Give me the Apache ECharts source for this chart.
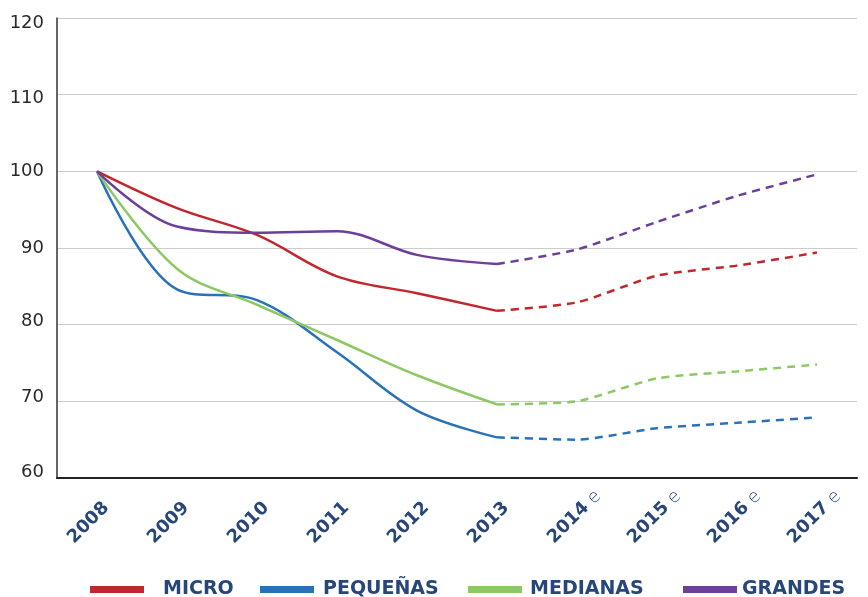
<!DOCTYPE html>
<html>
<head>
<meta charset="utf-8">
<script src="https://cdn.jsdelivr.net/npm/echarts@6/dist/echarts.min.js"></script>
<style>
  html, body { margin: 0; padding: 0; background: #fff; }
  #chart { width: 868px; height: 597px; }
</style>
</head>
<body>
<div id="chart"></div>
<script>
// Years; the last four are estimates (marked "e")
const years = ['2008', '2009', '2010', '2011', '2012', '2013', '2014', '2015', '2016', '2017'];
const estimated = [false, false, false, false, false, false, true, true, true, true];

// Index values (2008 = 100) by company size
const micro     = [100, 95.2, 91.7, 86.3, 84.1, 81.8, 82.9, 86.4, 87.7, 89.4];
const pequenas  = [100, 84.6, 83.2, 76.4, 68.8, 65.3, 65.0, 66.5, 67.2, 67.9];
const medianas  = [100, 87.3, 82.6, 78.0, 73.4, 69.6, 70.0, 73.0, 73.9, 74.8];
const grandes   = [100, 92.8, 92.0, 92.2, 89.1, 87.9, 89.8, 93.4, 96.8, 99.6];

// Y axis ticks
const yTicks = [60, 70, 80, 90, 100, 110, 120];

// vertical nudge (px, + = down) applied to each y tick label
const yLabelNudge = { 60: -6, 70: -4, 80: -3, 90: 0, 100: 0, 110: 4, 120: 5 };

const seriesDefs = [
  { name: 'MICRO',    color: '#c1272d', values: micro,    legendLeft: 90,  textGap: 14 },
  { name: 'PEQUEÑAS', color: '#2a72b8', values: pequenas, legendLeft: 260, textGap: 4 },
  { name: 'MEDIANAS', color: '#8cc864', values: medianas, legendLeft: 468, textGap: 3 },
  { name: 'GRANDES',  color: '#6d3f98', values: grandes,  legendLeft: 683, textGap: 0 }
];

const lastActual = estimated.indexOf(true) - 1;

const series = [];
seriesDefs.forEach(def => {
  // observed part: solid
  series.push({
    name: def.name,
    type: 'line',
    xAxisIndex: 0,
    smooth: 0.35,
    showSymbol: false,
    symbol: 'none',
    lineStyle: { color: def.color, width: 2.5 },
    itemStyle: { color: def.color },
    data: def.values.map((v, i) => (i <= lastActual ? v : null)),
    z: 3
  });
  // estimated part: dashed
  series.push({
    name: def.name + ' (e)',
    type: 'line',
    xAxisIndex: 0,
    smooth: 0.2,
    showSymbol: false,
    symbol: 'none',
    lineStyle: { color: def.color, width: 2.5, type: [8, 6] },
    itemStyle: { color: def.color },
    data: def.values.map((v, i) => (i >= lastActual ? v : null)),
    z: 3
  });
});

const navy = '#27477a';

// one legend entry per size class, each placed on its own
const legends = seriesDefs.map(def => ({
  data: [{ name: def.name, icon: 'rect', itemStyle: { color: def.color } }],
  left: def.legendLeft,
  top: 580,
  padding: 0,
  itemWidth: 54,
  itemHeight: 7,
  selectedMode: false,
  textStyle: {
    color: navy,
    fontFamily: 'DejaVu Sans',
    fontWeight: 'bold',
    fontSize: 19,
    padding: [0, 0, 0, def.textGap]
  }
}));

// rich styles for the y tick labels
const yRich = {};
yTicks.forEach(t => {
  const d = yLabelNudge[t] || 0;
  yRich['v' + t] = {
    color: '#2a2a2a',
    fontFamily: 'DejaVu Sans',
    fontSize: 18,
    padding: d >= 0 ? [2 * d, 0, 0, 0] : [0, 0, -2 * d, 0]
  };
});

const chart = echarts.init(document.getElementById('chart'));
chart.setOption({
  animation: false,
  grid: { left: 57, right: 11, top: 18, bottom: 119, containLabel: false },
  legend: legends,
  xAxis: [
    {
      type: 'category',
      data: years,
      boundaryGap: true,
      axisLine: { lineStyle: { color: '#222', width: 2 } },
      axisTick: { inside: true, length: 5, lineStyle: { color: '#222', width: 1.5 } },
      axisLabel: {
        interval: 0,
        rotate: 45,
        margin: 18,
        verticalAlign: 'top',
        padding: [4, 0, 0, 0],
        color: navy,
        fontFamily: 'DejaVu Sans',
        fontWeight: 'bold',
        fontSize: 18
      }
    },
    {
      // the raised "e" that marks estimated years
      type: 'category',
      data: years,
      boundaryGap: true,
      position: 'bottom',
      axisLine: { show: false },
      axisTick: { show: false },
      splitLine: { show: false },
      axisLabel: {
        interval: 0,
        rotate: 45,
        margin: 37,
        align: 'left',
        verticalAlign: 'middle',
        padding: [0, 0, 0, 19],
        color: navy,
        fontFamily: 'DejaVu Sans',
        fontWeight: 200,
        fontSize: 18,
        formatter: (val, idx) => (estimated[idx] ? 'e' : '')
      }
    }
  ],
  yAxis: {
    type: 'value',
    min: 60,
    max: 120,
    interval: 10,
    axisLine: { show: true, lineStyle: { color: '#333', width: 1.5 } },
    axisTick: { show: false },
    splitLine: { lineStyle: { color: '#cccccc', width: 1.2 } },
    axisLabel: {
      margin: 13,
      color: '#2a2a2a',
      fontFamily: 'DejaVu Sans',
      fontSize: 18,
      customValues: yTicks,
      formatter: v => '{v' + v + '|' + v + '}',
      rich: yRich
    }
  },
  series: series
});
</script>
</body>
</html>
